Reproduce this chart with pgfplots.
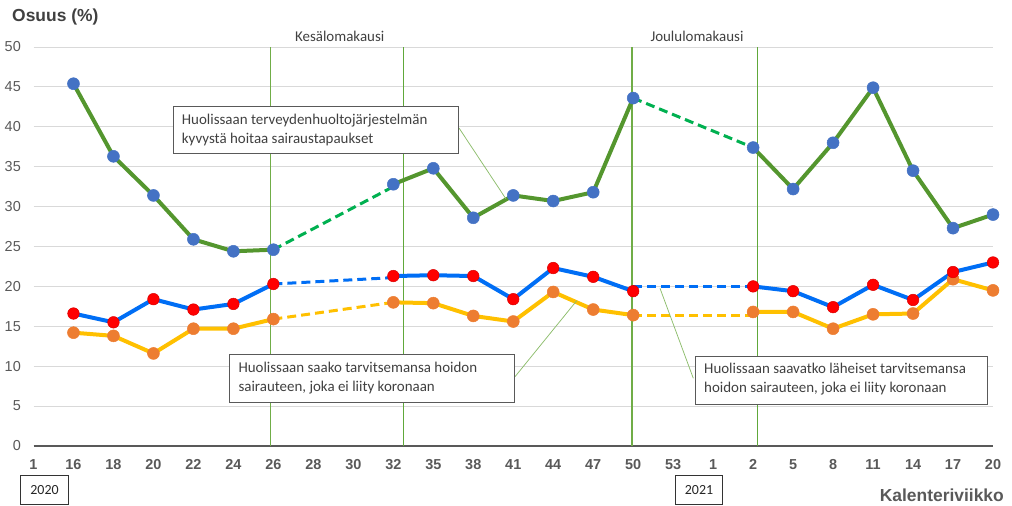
\documentclass[border=0pt]{standalone}
\usepackage{fontspec}
\setmainfont{Liberation Sans}
\newfontfamily\carl{Carlito}
\usepackage{pgfplots}
\pgfplotsset{compat=1.18}
\definecolor{gridcol}{HTML}{D9D9D9}
\definecolor{axiscol}{HTML}{595959}
\definecolor{tickcol}{HTML}{595959}
\definecolor{txtcol}{HTML}{404040}
\definecolor{vcol}{HTML}{70AD47}
\definecolor{vcolD}{HTML}{60A83A}
\definecolor{greenL}{RGB}{84,150,46}
\definecolor{greenD}{HTML}{00B050}
\definecolor{blueL}{RGB}{0,110,245}
\definecolor{blueM}{HTML}{4472C4}
\definecolor{yellowL}{HTML}{FFC000}
\definecolor{orangeM}{HTML}{ED7D31}
\definecolor{redM}{HTML}{FF0000}
\begin{document}
\begin{tikzpicture}
\useasboundingbox (0,0) rectangle (1012bp,506bp);
\begin{axis}[
 at={(33.5bp,60bp)}, anchor=south west, scale only axis,
 width=959.5bp, height=399bp,
 xmin=0, xmax=24, ymin=0, ymax=50,
 clip=false,
 axis line style={draw=none},
 tick style={draw=none},
 ymajorgrids, major grid style={gridcol, line width=1bp},
 ytick={0,5,...,50},
 xtick={0,...,24},
 xticklabels={1,16,18,20,22,24,26,28,30,32,35,38,41,44,47,50,53,1,2,5,8,11,14,17,20},
 xticklabel style={font=\fontsize{14.5}{16}\selectfont\bfseries, text=tickcol, anchor=base, yshift=-23.7bp},
 yticklabel style={font=\fontsize{14.5}{16}\selectfont, text=tickcol, anchor=east, inner sep=0pt, xshift=-12.5bp},
 /pgf/number format/assume math mode=true,
]
% axis line
\addplot[axiscol, line width=2bp, forget plot] coordinates {(0,0) (24,0)};
% vertical season lines
\addplot[vcol, line width=1.1bp, forget plot] coordinates {(5.93,0) (5.93,50)};
\addplot[vcolD, line width=1.1bp, forget plot] coordinates {(9.25,0) (9.25,50)};
\addplot[vcol, line width=1.1bp, forget plot] coordinates {(14.97,0) (14.97,50)};
\addplot[vcolD, line width=1.1bp, forget plot] coordinates {(18.1,0) (18.1,50)};

% yellow series
\addplot[yellowL, line width=3bp, dash pattern=on 9bp off 5bp, forget plot] coordinates {(6,15.9) (9,18.0)};
\addplot[yellowL, line width=3bp, dash pattern=on 9bp off 5bp, forget plot] coordinates {(15,16.4) (18,16.4)};
\addplot[yellowL, line width=4bp, mark=*, mark size=6bp, mark options={fill=orangeM, draw=orangeM, line width=0.5bp, solid}, forget plot] coordinates {(1,14.2) (2,13.8) (3,11.6) (4,14.7) (5,14.7) (6,15.9)};
\addplot[yellowL, line width=4bp, mark=*, mark size=6bp, mark options={fill=orangeM, draw=orangeM, line width=0.5bp, solid}, forget plot] coordinates {(9,18.0) (10,17.9) (11,16.3) (12,15.6) (13,19.3) (14,17.1) (15,16.4)};
\addplot[yellowL, line width=4bp, mark=*, mark size=6bp, mark options={fill=orangeM, draw=orangeM, line width=0.5bp, solid}, forget plot] coordinates {(18,16.8) (19,16.8) (20,14.7) (21,16.5) (22,16.6) (23,20.9) (24,19.5)};

% blue series
\addplot[blueL, line width=3bp, dash pattern=on 9bp off 5bp, forget plot] coordinates {(6,20.3) (9,21.1)};
\addplot[blueL, line width=3bp, dash pattern=on 9bp off 5bp, forget plot] coordinates {(15,20.0) (18,20.0)};
\addplot[blueL, line width=4bp, mark=*, mark size=5.8bp, mark options={fill=redM, draw=redM!85!black, line width=0.5bp, solid}, forget plot] coordinates {(1,16.6) (2,15.5) (3,18.4) (4,17.1) (5,17.8) (6,20.3)};
\addplot[blueL, line width=4bp, mark=*, mark size=5.8bp, mark options={fill=redM, draw=redM!85!black, line width=0.5bp, solid}, forget plot] coordinates {(9,21.3) (10,21.4) (11,21.3) (12,18.4) (13,22.3) (14,21.2) (15,19.4)};
\addplot[blueL, line width=4bp, mark=*, mark size=5.8bp, mark options={fill=redM, draw=redM!85!black, line width=0.5bp, solid}, forget plot] coordinates {(18,20.0) (19,19.4) (20,17.4) (21,20.2) (22,18.3) (23,21.8) (24,23.0)};

% green series
\addplot[greenD, line width=3bp, dash pattern=on 9bp off 5bp, forget plot] coordinates {(6,24.6) (9,32.5)};
\addplot[greenD, line width=3bp, dash pattern=on 9bp off 5bp, forget plot] coordinates {(15,43.6) (18,37.4)};
\addplot[greenL, line width=4bp, mark=*, mark size=6bp, mark options={fill=blueM, draw=blueM, line width=0.5bp, solid}, forget plot] coordinates {(1,45.4) (2,36.3) (3,31.4) (4,25.9) (5,24.4) (6,24.6)};
\addplot[greenL, line width=4bp, mark=*, mark size=6bp, mark options={fill=blueM, draw=blueM, line width=0.5bp, solid}, forget plot] coordinates {(9,32.8) (10,34.8) (11,28.6) (12,31.4) (13,30.7) (14,31.8) (15,43.6)};
\addplot[greenL, line width=4bp, mark=*, mark size=6bp, mark options={fill=blueM, draw=blueM, line width=0.5bp, solid}, forget plot] coordinates {(18,37.4) (19,32.2) (20,38.0) (21,44.9) (22,34.5) (23,27.3) (24,29.0)};
\end{axis}

% titles
\node[anchor=west, font=\fontsize{17.5}{20}\selectfont\bfseries, text=txtcol, inner sep=0pt] at (12bp,489bp) {Osuus (\%)};
\node[anchor=east, font=\fontsize{17.5}{20}\selectfont\bfseries, text=tickcol, inner sep=0pt] at (1004bp,11bp) {Kalenteriviikko};
\node[font=\carl\fontsize{15}{18}\selectfont, text=txtcol, inner sep=0pt] at (339.7bp,469.3bp) {Kesälomakausi};
\node[font=\carl\fontsize{15}{18}\selectfont, text=txtcol, inner sep=0pt] at (697bp,469.3bp) {Joululomakausi};

% year boxes
\draw[black!80, line width=0.8bp, fill=white] (20.7bp,2bp) rectangle (68.3bp,30.3bp);
\node[font=\carl\fontsize{14}{16}\selectfont, text=black!85, inner sep=0pt] at (44.5bp,16.2bp) {2020};
\draw[black!80, line width=0.8bp, fill=white] (675.7bp,2bp) rectangle (722.3bp,30.3bp);
\node[font=\carl\fontsize{14}{16}\selectfont, text=black!85, inner sep=0pt] at (699bp,16.2bp) {2021};

% callout lines
\draw[vcol!80, line width=0.75bp] (459bp,378bp) -- (506bp,307bp);
\draw[vcol!80, line width=0.75bp] (515bp,129.3bp) -- (576.7bp,205.3bp);
\draw[vcol!80, line width=0.75bp] (693.3bp,127.7bp) -- (660bp,217.7bp);

% annotation boxes
\draw[axiscol, line width=0.8bp, fill=white] (173.3bp,352.3bp) rectangle (458.3bp,400bp);
\node[anchor=base west, font=\carl\fontsize{15}{18}\selectfont, text=txtcol, inner sep=0pt] at (181.7bp,381bp) {Huolissaan terveydenhuoltojärjestelmän};
\node[anchor=base west, font=\carl\fontsize{15}{18}\selectfont, text=txtcol, inner sep=0pt] at (181.7bp,362.7bp) {kyvystä hoitaa sairaustapaukset};

\draw[axiscol, line width=0.8bp, fill=white] (229.3bp,103.3bp) rectangle (514.7bp,151.7bp);
\node[anchor=base west, font=\carl\fontsize{15}{18}\selectfont, text=txtcol, inner sep=0pt] at (238.3bp,133.3bp) {Huolissaan saako tarvitsemansa hoidon};
\node[anchor=base west, font=\carl\fontsize{15}{18}\selectfont, text=txtcol, inner sep=0pt] at (238.3bp,114.3bp) {sairauteen, joka ei liity koronaan};

\draw[axiscol, line width=0.8bp, fill=white] (695bp,102bp) rectangle (987.7bp,150bp);
\node[anchor=base west, font=\carl\fontsize{15}{18}\selectfont, text=txtcol, inner sep=0pt] at (704bp,132bp) {Huolissaan saavatko läheiset tarvitsemansa};
\node[anchor=base west, font=\carl\fontsize{15}{18}\selectfont, text=txtcol, inner sep=0pt] at (704bp,113.3bp) {hoidon sairauteen, joka ei liity koronaan};
\end{tikzpicture}
\end{document}
